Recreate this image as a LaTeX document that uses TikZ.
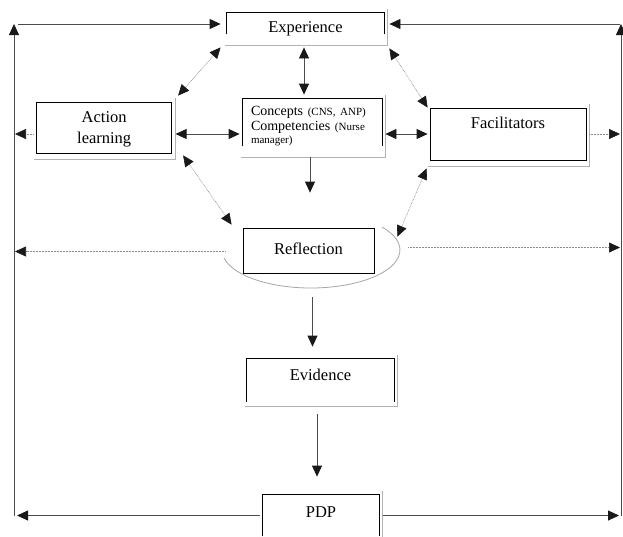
\documentclass[tikz,border=0pt]{standalone}
\usepackage{fontspec}
\setmainfont{Liberation Serif}
\usetikzlibrary{arrows.meta}

\newcommand{\boxfont}{\fontsize{16.5}{21}\selectfont}
\newcommand{\conceptfont}{\fontsize{14}{15}\selectfont}
\newcommand{\notefont}{\fontsize{11}{13}\selectfont}
\newcommand{\boxshadow}[2]{\draw[shadowline] ([xshift=-2pt,yshift=-#2pt]#1.south west) -| ([xshift=3pt,yshift=4pt]#1.north east);}
\newcommand{\openframe}[1]{\draw[frameline] (#1.south west) |- (#1.north east) -- (#1.south east);}

\begin{document}
\begin{tikzpicture}[x=1pt,y=-1pt]

\tikzstyle{box}=[rectangle, inner sep=0pt, draw=black, line width=0.8pt, font=\boxfont]
\tikzstyle{openbox}=[box, draw=none]
\tikzstyle{frameline}=[draw=black, line width=0.8pt]
\tikzstyle{shadowline}=[draw=black!30, line width=0.8pt]
\tikzstyle{connect}=[-{Triangle[length=11pt,width=10pt,color=black!90]}, draw=black!70, line width=0.8pt]
\tikzstyle{both}=[{Triangle[length=11pt,width=10pt,color=black!90]}-{Triangle[length=11pt,width=10pt,color=black!90]}, draw=black!70, line width=0.8pt]
\tikzstyle{dots}=[draw=black!45, dash pattern=on 0.7pt off 0.8pt, line width=0.6pt]

\useasboundingbox (0,0) rectangle (623,536);

\node[openbox, minimum width=157pt, text height=19pt, text depth=2pt, anchor=base] (exp) at (305.5,32) {Experience};
\node[openbox, minimum width=139pt, text width=123pt, inner xsep=8pt, align=left, font=\conceptfont, text height=16pt, text depth=31pt, anchor=base] (con) at (312.5,115) {Concepts {\notefont (CNS, ANP)}\\ Competencies {\notefont (Nurse}\\[-2pt] {\notefont manager)}};
\node[box, minimum width=135pt, text width=135pt, align=center, text height=20pt, text depth=31pt, anchor=base] (act) at (104.2,122) {Action\\ learning};
\node[box, minimum width=156pt, text height=20pt, text depth=32pt, anchor=base] (fac) at (508,128) {Facilitators};

\node[box, minimum width=131pt, text height=26pt, text depth=19pt, anchor=base] (refl) at (308.5,254) {Reflection};
\node[openbox, minimum width=147pt, text height=21pt, text depth=22pt, anchor=base] (evi) at (320.5,380) {Evidence};
\node[openbox, minimum width=116pt, text height=22pt, text depth=19pt, anchor=base] (pdp) at (321,517) {PDP};

\openframe{exp}
\openframe{con}
\openframe{evi}
\openframe{pdp}

\boxshadow{exp}{11}
\boxshadow{con}{11}
\boxshadow{act}{6}
\boxshadow{fac}{6}
\boxshadow{evi}{4}
\boxshadow{pdp}{6}

% ellipse under reflection
\draw[shadowline, draw=black!35] ([xshift=2.5pt,yshift=0.5pt]refl.center) ++(192:89pt and 38pt) arc[start angle=192, end angle=397, x radius=89pt, y radius=38pt];

\coordinate (tl) at (14,24);
\coordinate (tr) at (621,24);
\coordinate (bl) at (14,516);
\coordinate (br) at (621,516);
\coordinate (row) at (0,134);

% outer loop
\draw[connect] (bl) -- (tl);
\draw[connect] (br) -- (tr);
\draw[connect, shorten <=4pt, shorten >=6pt] (tl) -- (tl -| exp.west);
\draw[connect, shorten <=1pt, shorten >=5pt] (tr) -- (tr -| exp.east);
\draw[connect, shorten <=3pt, shorten >=3pt] (pdp.west) -- (pdp.west -| bl);
\draw[connect, shorten <=4pt, shorten >=2pt] (pdp.east) -- (pdp.east -| br);

\draw[connect, dots, shorten <=3pt, shorten >=1pt] (act.west |- row) -- (tl |- row);
\draw[connect, dots, shorten <=3pt, shorten >=1pt] (fac.east |- row) -- (tr |- row);
\draw[both, shorten <=3.5pt, shorten >=3pt] (act.east |- row) -- (con.west |- row);
\draw[both, shorten <=3pt, shorten >=2pt] (con.east |- row) -- (fac.west |- row);

\draw[both, shorten <=13pt, shorten >=4pt] ([xshift=-1.5pt]exp.south) -- ([xshift=-1.5pt]exp.south |- con.north);
\draw[connect, shorten <=11pt, shorten >=35pt] ([xshift=-2.5pt]con.south) -- ([xshift=-2.5pt]con.south |- refl.north);

\draw[both, dots] ([xshift=-6pt,yshift=-13pt]exp.south west) -- ([xshift=6pt,yshift=6pt]act.north east);
\draw[both, dots] ([xshift=5pt,yshift=-14pt]exp.south east) -- ([xshift=-2pt]fac.north west);
\draw[both, dots] ([xshift=11pt,yshift=-2pt]act.south east) -- ([xshift=-11pt,yshift=3pt]refl.north west);
\draw[both, dots] ([xshift=-3pt,yshift=-8pt]fac.south west) -- ([xshift=23pt,yshift=-9pt]refl.north east);

\draw[connect, dots, shorten <=17pt, shorten >=1pt] ([yshift=-1pt]refl.west) -- ([yshift=-1pt]refl.west -| tl);
\draw[connect, dots, shorten <=34pt, shorten >=1pt] ([yshift=3pt]refl.east) -- ([yshift=3pt]refl.east -| tr);

\draw[connect, shorten <=24pt, shorten >=12pt] ([xshift=4pt]refl.south) -- ([xshift=4pt]refl.south |- evi.north);
\draw[connect, shorten <=12pt, shorten >=18pt] ([xshift=-3.5pt]evi.south) -- ([xshift=-3.5pt]evi.south |- pdp.north);

\end{tikzpicture}
\end{document}
